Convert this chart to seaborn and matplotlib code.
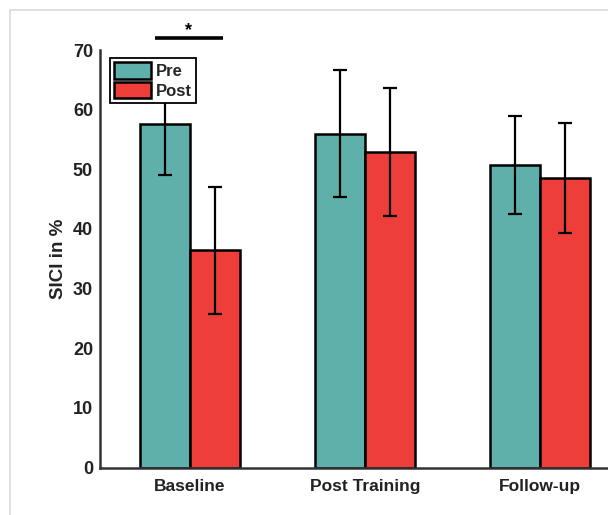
import matplotlib
matplotlib.use("Agg")
import matplotlib.pyplot as plt
import matplotlib.patches as mpatches
import numpy as np
import pandas as pd
import seaborn as sns

# Mean SICI values and standard deviations per session and condition
sessions = ["Baseline", "Post Training", "Follow-up"]
conditions = ["Pre", "Post"]
pre_means = [57.6, 56.0, 50.7]
post_means = [36.4, 52.9, 48.5]
pre_sd = [8.6, 10.6, 8.2]
post_sd = [10.6, 10.7, 9.2]
y_ticks = [0, 10, 20, 30, 40, 50, 60, 70]

colors = {"Pre": "#5fb0ab", "Post": "#ee3e3a"}

df = pd.DataFrame({
    "session": sessions * 2,
    "condition": ["Pre"] * 3 + ["Post"] * 3,
    "sici": pre_means + post_means,
    "sd": pre_sd + post_sd,
})

sns.set_theme(style="white")
plt.rcParams["font.family"] = ["Liberation Sans", "DejaVu Sans"]
plt.rcParams["font.weight"] = "bold"

W, H = 608, 515
fig = plt.figure(figsize=(W / 100, H / 100), dpi=100)

# Thin grey frame around the panel
fig.patches.append(mpatches.Rectangle(
    (10 / W, -0.1), 1.2, 1.1 - 10 / H, transform=fig.transFigure,
    fill=False, edgecolor="#d9d9d9", linewidth=1.2, zorder=0))

ax = fig.add_axes([100 / W, (H - 467.5) / H, 530 / W, 417.5 / H])

sns.barplot(data=df, x="session", y="sici", hue="condition",
            order=sessions, hue_order=conditions, palette=colors,
            width=0.571, errorbar=None, edgecolor="black", linewidth=1.8,
            ax=ax, legend=False, saturation=1)

# Error bars at the centres of the drawn bars
for cond in conditions:
    sub = df[df["condition"] == cond].set_index("session").loc[sessions]
    cont = ax.containers[conditions.index(cond)]
    xs = [p.get_x() + p.get_width() / 2 for p in cont.patches]
    ax.errorbar(xs, sub["sici"], yerr=sub["sd"], fmt="none", ecolor="black",
                elinewidth=1.6, capsize=5, capthick=1.6, zorder=3)

ax.set_xlim(-0.514, 2.514)
ax.set_ylim(0, 70)
ax.set_yticks(y_ticks)
ax.set_yticklabels([str(t) for t in y_ticks])
ax.tick_params(axis="y", length=0, labelsize=13, labelcolor="#222222", pad=5)
ax.tick_params(axis="x", length=0, labelsize=12.5, labelcolor="#222222", pad=8)
for lab in ax.get_xticklabels() + ax.get_yticklabels():
    lab.set_fontweight("bold")
ax.set_xlabel("")
ax.set_ylabel("SICI in %", fontsize=13.5, fontweight="bold", color="#222222", labelpad=4)

for side in ["top", "right"]:
    ax.spines[side].set_visible(False)
for side in ["left", "bottom"]:
    ax.spines[side].set_color("#333333")
    ax.spines[side].set_linewidth(1.8)

# Significance marker between Pre and Post at baseline
ax.plot([-0.2, 0.19], [72.0, 72.0], color="black", lw=2.6, clip_on=False,
        solid_capstyle="butt")
ax.text(-0.01, 73.2, "*", ha="center", va="center", fontsize=13,
        fontweight="bold", color="black", clip_on=False)

handles = [mpatches.Patch(facecolor=colors[c], edgecolor="black", linewidth=1.8, label=c)
           for c in conditions]
leg = fig.legend(handles=handles, loc="upper left",
                 bbox_to_anchor=(110 / W, 1 - 58 / H),
                 frameon=True, fancybox=False, framealpha=1,
                 edgecolor="black", prop={"weight": "bold", "size": 12},
                 handlelength=2.2, handleheight=1.15, handletextpad=0.3,
                 labelspacing=0.15, borderpad=0.25, borderaxespad=0)
leg.get_frame().set_linewidth(1.3)
leg.set_zorder(10)

fig.savefig("out.png", dpi=100)
